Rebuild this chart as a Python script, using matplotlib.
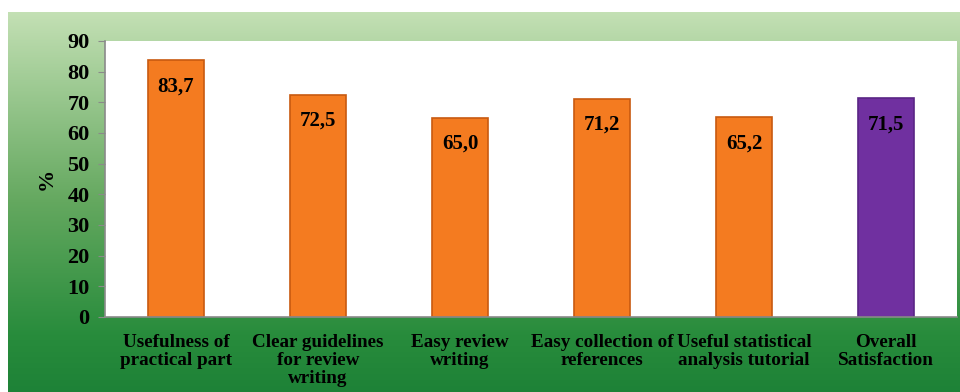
import numpy as np
import matplotlib.pyplot as plt

categories = ['Usefulness of\npractical part', 'Clear guidelines\nfor review\nwriting',
              'Easy review\nwriting', 'Easy collection of\nreferences',
              'Useful statistical\nanalysis tutorial', 'Overall\nSatisfaction']
values = [83.7, 72.5, 65.0, 71.2, 65.2, 71.5]
value_labels = ['83,7', '72,5', '65,0', '71,2', '65,2', '71,5']
bar_colors = ['#F47B20'] * 5 + ['#7030A0']
edge_colors = ['#C85A10'] * 5 + ['#5A2585']

plt.rcParams['font.family'] = ['Liberation Serif', 'DejaVu Serif']
plt.rcParams['font.weight'] = 'bold'

fig = plt.figure(figsize=(9.6, 3.92), dpi=100)

# green gradient background
bg = fig.add_axes([8 / 960, 0, 952 / 960, 380 / 392])
stops = [0, 0.5, 0.85, 1]
cols = np.array([[195, 224, 180], [100, 168, 95], [40, 140, 60], [30, 130, 55]]) / 255
t = np.linspace(0, 1, 256)
grad = np.stack([np.interp(t, stops, cols[:, i]) for i in range(3)], axis=1)
bg.imshow(grad[:, None, :], aspect='auto', extent=[0, 1, 0, 1])
bg.set_axis_off()

ax = fig.add_axes([105 / 960, (392 - 317) / 392, 852 / 960, 276 / 392])
ax.set_facecolor('white')
x = np.arange(len(categories))
ax.bar(x, values, width=0.39, color=bar_colors, edgecolor=edge_colors, linewidth=1.2)

for xi, v, lab in zip(x, values, value_labels):
    ax.annotate(lab, (xi, v), xytext=(0, -19), textcoords='offset points',
                ha='center', va='center', fontsize=15, fontweight='bold', color='black')

ax.set_xlim(-0.5, 5.5)
ax.set_ylim(0, 90)
ax.set_yticks(range(0, 91, 10))
ax.set_xticks(x)
ax.set_xticklabels(categories, fontsize=13.8, fontweight='bold', linespacing=1.1)
ax.tick_params(axis='x', length=0, pad=12)
ax.tick_params(axis='y', length=5, color='#8a8a8a', labelsize=16, pad=6)
for s in ['top', 'right']:
    ax.spines[s].set_visible(False)
for s in ['left', 'bottom']:
    ax.spines[s].set_color('#8a8a8a')
    ax.spines[s].set_linewidth(1.2)
ax.set_ylabel('%', fontsize=16, fontweight='bold', labelpad=8)

fig.savefig('out.png', dpi=100)
